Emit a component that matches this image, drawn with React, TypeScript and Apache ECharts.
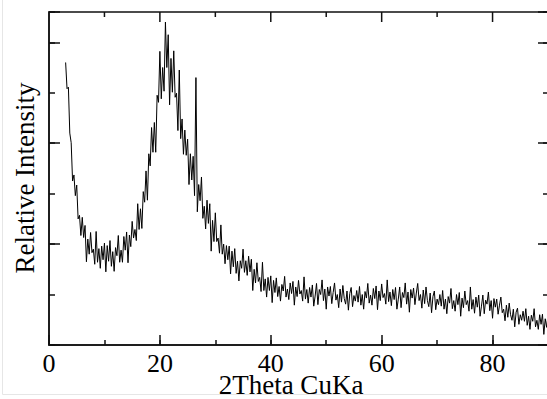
import React, { useEffect, useRef } from "react";
import * as echarts from "echarts";

// 2θ grid of the scan (degrees)
const twoThetaStart = 3;
const twoThetaStep = 0.25;

// Relative intensity, one value per 0.25° from 3° to 90°
const intensity: number[] = [
  560, 508, 511, 420, 401, 325, 337, 296, 317, 250,
  257, 217, 253, 213, 237, 165, 210, 180, 223, 183,
  190, 160, 225, 164, 191, 152, 196, 169, 202, 145,
  197, 166, 207, 156, 185, 146, 193, 177, 217, 164,
  188, 164, 215, 188, 224, 163, 218, 195, 245, 212,
  229, 207, 280, 229, 270, 231, 304, 283, 345, 287,
  379, 355, 431, 382, 441, 382, 495, 481, 582, 488,
  550, 503, 640, 550, 615, 476, 568, 501, 583, 491,
  499, 425, 545, 409, 448, 378, 426, 376, 408, 318,
  379, 327, 374, 296, 530, 264, 318, 286, 333, 251,
  275, 230, 287, 241, 280, 186, 247, 205, 262, 205,
  212, 182, 238, 180, 200, 161, 197, 169, 196, 141,
  186, 155, 191, 142, 166, 127, 167, 152, 190, 144,
  167, 138, 176, 145, 170, 108, 150, 123, 163, 126,
  134, 106, 164, 108, 131, 95, 134, 108, 137, 84,
  128, 104, 133, 96, 116, 87, 120, 107, 136, 95,
  111, 90, 123, 102, 126, 79, 115, 96, 128, 101,
  108, 87, 135, 91, 110, 83, 114, 95, 119, 77,
  97, 122, 80, 110, 100, 129, 88, 111, 71, 115,
  97, 116, 82, 104, 123, 89, 100, 74, 111, 85,
  118, 92, 81, 107, 69, 102, 114, 76, 98, 87,
  108, 85, 116, 79, 100, 71, 106, 93, 122, 83,
  99, 79, 112, 92, 117, 70, 107, 88, 121, 94,
  102, 81, 129, 86, 105, 78, 110, 90, 114, 71,
  91, 115, 74, 104, 94, 123, 81, 105, 65, 110,
  93, 113, 80, 103, 122, 88, 100, 73, 109, 82,
  115, 88, 76, 103, 64, 96, 107, 70, 91, 80,
  100, 77, 108, 71, 91, 62, 96, 83, 112, 72,
  88, 67, 100, 80, 104, 57, 93, 74, 107, 80,
  88, 67, 115, 71, 90, 63, 95, 75, 99, 57,
  77, 99, 62, 89, 81, 105, 68, 88, 53, 92,
  75, 91, 61, 79, 95, 64, 71, 48, 79, 55,
  83, 60, 49, 71, 36, 65, 73, 41, 60, 49,
  67, 47, 72, 39, 57, 31, 59, 47, 72, 36,
  49, 31, 60, 41, 61, 21, 52, 35, 61,
];

// Axis ranges and tick steps
const xMin = 0;
const xMax = 90;
const xMajor = 20;
const xMinor = 10;
const yMin = 0;
const yMax = 660;
const yMajor = 200;
const yMinor = 100;

const xTitle = "2Theta CuKa";
const yTitle = "Relative Intensity";

const FONT = "Liberation Serif";
const INK = "#111";

export default function App() {
  const ref = useRef<HTMLDivElement>(null);

  useEffect(() => {
    if (!ref.current) return;
    const chart = echarts.init(ref.current, null, { renderer: "svg" });
    const data = intensity.map((v, i) => [twoThetaStart + i * twoThetaStep, v]);

    const lineStyle = { color: INK, width: 1.5 };
    const tickStyle = { color: INK, width: 1.5 };
    const lineOn = { show: true, onZero: false, lineStyle };
    const lineOff = { show: false, onZero: false };
    const xa = (gridIndex: number, interval: number, len: number, line: boolean, labels = false) => ({
      type: "value",
      gridIndex,
      position: "bottom",
      min: xMin,
      max: xMax,
      interval,
      splitLine: { show: false },
      axisLine: line ? lineOn : lineOff,
      axisTick: { show: true, inside: true, length: len, lineStyle: tickStyle },
      axisLabel: labels
        ? {
            show: true,
            showMaxLabel: false,
            color: "#000",
            fontFamily: FONT,
            fontSize: 26,
            lineHeight: 20,
            margin: 8,
          }
        : { show: false },
    });
    const ya = (gridIndex: number, position: string, interval: number, len: number, line: boolean) => ({
      type: "value",
      gridIndex,
      position,
      min: yMin,
      max: yMax,
      interval,
      splitLine: { show: false },
      axisLine: line ? lineOn : lineOff,
      axisTick: { show: true, inside: true, length: len, lineStyle: tickStyle },
      axisLabel: { show: false },
    });
    const gridBox = { left: 49, top: 12, right: -1, bottom: 54, containLabel: false, outerBoundsMode: "none" };

    const titles: any[] = [
      {
        type: "polyline",
        silent: true,
        shape: { points: [[2.5, 0], [2.5, 394.5], [547, 394.5]] },
        style: { stroke: "#e6e6e6", lineWidth: 1, fill: null },
      },
      {
        type: "text",
        silent: true,
        x: 291,
        y: 385,
        style: {
          text: xTitle,
          fill: "#000",
          font: `27px "${FONT}"`,
          lineHeight: 22,
          align: "center",
          verticalAlign: "middle",
        },
      },
      {
        type: "text",
        silent: true,
        x: 25,
        y: 178,
        rotation: Math.PI / 2,
        style: {
          text: yTitle,
          fill: "#000",
          font: `27px "${FONT}"`,
          align: "center",
          verticalAlign: "middle",
        },
      },
    ];

    chart.setOption({
      animation: false,
      backgroundColor: "#fff",
      grid: [
        { ...gridBox, show: true, borderColor: INK, borderWidth: 1.5, backgroundColor: "transparent" },
        { ...gridBox },
      ],
      xAxis: [xa(0, xMajor, 10, true, true), xa(1, xMinor, 5, false)],
      yAxis: [
        ya(0, "left", yMajor, 11, true),
        ya(0, "right", yMajor, 10, false),
        ya(1, "left", yMinor, 6, false),
        ya(1, "right", yMinor, 5, false),
      ],
      graphic: titles,
      series: [
        {
          type: "line",
          xAxisIndex: 0,
          yAxisIndex: 0,
          data,
          showSymbol: false,
          symbol: "none",
          clip: true,
          lineStyle: { color: "#000", width: 1 },
        },
      ],
    });

    // Downward ticks along the top frame, placed through the grid's scales
    const frame: any[] = [];
    for (let v = xMin + xMinor; v < xMax; v += xMinor) {
      const p = chart.convertToPixel({ gridIndex: 0 }, [v, yMax]) as any;
      if (!p || !isFinite(p[0]) || !isFinite(p[1])) continue;
      const len = v % xMajor === 0 ? 10 : 5;
      frame.push({
        type: "line",
        silent: true,
        shape: { x1: p[0], y1: p[1], x2: p[0], y2: p[1] + len },
        style: { stroke: INK, lineWidth: 1.5 },
      });
    }
    chart.setOption({ graphic: [...titles, ...frame] });

    return () => chart.dispose();
  }, []);

  return (
    <div
      ref={ref}
      style={{ position: "fixed", left: 0, top: 0, width: 547, height: 399, background: "#fff" }}
    />
  );
}
